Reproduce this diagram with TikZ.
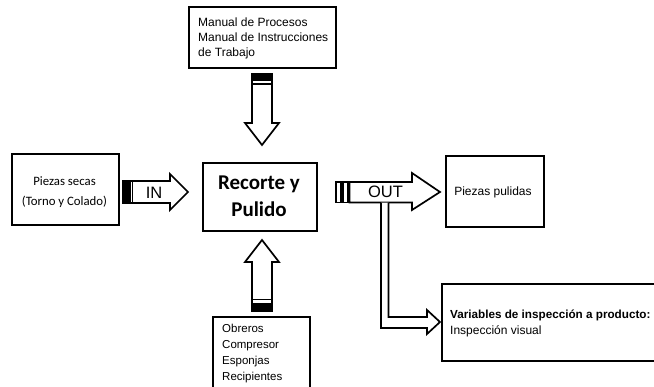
\documentclass[tikz,border=0pt]{standalone}
\usepackage{fontspec}
\setmainfont{Liberation Sans}
\newfontfamily\calibri{Carlito}
\begin{document}
\begin{tikzpicture}[x=1pt,y=-1pt,
  box/.style={draw=black, line width=1.8pt, inner sep=0pt},
  mainbox/.style={draw=black, line width=2.4pt, inner sep=0pt},
  txt/.style={inner sep=0pt, align=left},
  blockarrow/.style={draw=black, line width=1.7pt, fill=white, line join=miter},
  band/.style={fill=black},
  tagtxt/.style={inner sep=0pt, font={\fontsize{16.5}{18}\selectfont}},
]
\useasboundingbox (0,0) rectangle (654,386);
\clip (0,0) rectangle (654,386);

% ---- boxes ----
\node[box, minimum width=147pt, minimum height=61pt, anchor=north west] (docs) at (188,6) {};
\node[txt, anchor=west, font={\fontsize{12}{15}\selectfont}] (docs-t) at (198,38.5)
  {Manual de Procesos\\Manual de Instrucciones\\de Trabajo};

\node[box, minimum width=107pt, minimum height=71pt, anchor=north west] (input) at (11,153) {};
\node[inner sep=0pt, align=center, font={\calibri\fontsize{12.8}{20}\selectfont}] (input-t) at (64.5,192.5)
  {Piezas secas\\(Torno y Colado)};

\node[mainbox, minimum width=114pt, minimum height=68pt, anchor=north west] (proc) at (202,162) {};
\node[inner sep=0pt, align=center, font={\calibri\bfseries\fontsize{21}{27}\selectfont}] (proc-t) at (259,196.5)
  {Recorte y\\Pulido};

\node[box, minimum width=98pt, minimum height=71pt, anchor=north west] (output) at (445,155) {};
\node[inner sep=0pt, font={\fontsize{12}{15}\selectfont}] (output-t) at (493,192) {Piezas pulidas};

\node[box, minimum width=97pt, minimum height=80pt, anchor=north west] (res) at (212,316) {};
\node[txt, anchor=west, font={\fontsize{11.5}{16}\selectfont}] (res-t) at (222,353.5)
  {Obreros\\Compresor\\Esponjas\\Recipientes};

\node[box, minimum width=225pt, minimum height=77pt, anchor=north west] (insp) at (441,283) {};
\node[txt, anchor=west, font={\fontsize{12}{16}\selectfont}] (insp-t) at (450,323.5)
  {\textbf{\fontsize{11.7}{16}\selectfont Variables de inspección a producto:}\\Inspección visual};

% ---- control arrow (down, from the documents box) ----
\draw[blockarrow] (252,74) -- (272,74) -- (272,123) -- (279,123) -- (262,145)
  -- (245,123) -- (252,123) -- cycle;
\fill[band] (252,74) rectangle (272,80.5);
\draw[line width=1.6pt] (252,84.2) -- (272,84.2);

% ---- resources arrow (up, from the resources box) ----
\draw[blockarrow] (262,240) -- (279,262) -- (272,262) -- (272,311) -- (252,311)
  -- (252,262) -- (245,262) -- cycle;
\fill[band] (252,303.3) rectangle (272,311);
\draw[line width=1.6pt] (252,299.5) -- (272,299.5);

% ---- IN arrow ----
\draw[blockarrow] (123,181) -- (170,181) -- (170,174) -- (188,192) -- (170,210)
  -- (170,203) -- (123,203) -- cycle;
\fill[band] (123,181) rectangle (130.5,203);
\draw[line width=1.6pt] (132.5,181) -- (132.5,203);
\node[tagtxt] (in-t) at (154,192.5) {IN};

% ---- OUT arrow ----
\draw[blockarrow] (336,182) rectangle (341,202.5);
\draw[blockarrow] (342.8,182) rectangle (347.8,202.5);
\draw[blockarrow] (349.5,182) -- (412,182) -- (412,173) -- (440,192) -- (412,210)
  -- (412,202.5) -- (349.5,202.5) -- cycle;
\node[tagtxt] (out-t) at (385.5,191.5) {OUT};

% ---- branch to the inspection box ----
\coordinate (br-o) at (381,202.5);
\coordinate (br-i) at (388.5,202.5);
\draw[blockarrow] (br-o) -- (381,328) -- (427,328) -- (427,334) -- (440,322)
  -- (427,310) -- (427,317) -- (388.5,317) -- (br-i);
\end{tikzpicture}
\end{document}
